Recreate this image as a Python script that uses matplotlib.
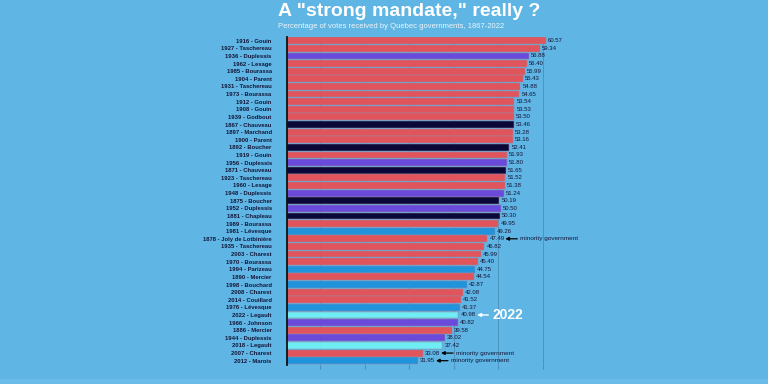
import matplotlib
matplotlib.use("Agg")
import matplotlib.pyplot as plt

plt.rcParams['font.family'] = ['Liberation Sans', 'DejaVu Sans']

labels = ["1916 - Gouin", "1927 - Taschereau", "1936 - Duplessis", "1962 - Lesage",
          "1985 - Bourassa", "1904 - Parent", "1931 - Taschereau", "1973 - Bourassa",
          "1912 - Gouin", "1908 - Gouin", "1939 - Godbout", "1867 - Chauveau",
          "1897 - Marchand", "1900 - Parent", "1892 - Boucher", "1919 - Gouin",
          "1956 - Duplessis", "1871 - Chauveau", "1923 - Taschereau", "1960 - Lesage",
          "1948 - Duplessis", "1875 - Boucher", "1952 - Duplessis", "1881 - Chapleau",
          "1989 - Bourassa", "1981 - Lévesque", "1878 - Joly de Lotbinière", "1935 - Taschereau",
          "2003 - Charest", "1970 - Bourassa", "1994 - Parizeau", "1890 - Mercier",
          "1998 - Bouchard", "2008 - Charest", "2014 - Couillard", "1976 - Lévesque",
          "2022 - Legault", "1966 - Johnson", "1886 - Mercier", "1944 - Duplessis",
          "2018 - Legault", "2007 - Charest", "2012 - Marois"]
values = [60.57, 59.34, 56.88, 56.40, 55.99, 55.43, 54.88, 54.65, 53.54, 53.53,
          53.50, 53.46, 53.28, 53.16, 52.41, 51.93, 51.80, 51.65, 51.52, 51.38,
          51.24, 50.19, 50.50, 50.30, 49.95, 49.26, 47.49, 46.82, 45.99, 45.40,
          44.75, 44.54, 42.87, 42.08, 41.52, 41.37, 40.98, 40.82, 39.58, 38.02,
          37.42, 33.08, 31.95]
parties = ["PLQ", "PLQ", "UN", "PLQ", "PLQ", "PLQ", "PLQ", "PLQ", "PLQ", "PLQ",
           "PLQ", "CON", "PLQ", "PLQ", "CON", "PLQ", "UN", "CON", "PLQ", "PLQ",
           "UN", "CON", "UN", "CON", "PLQ", "PQ", "PLQ", "PLQ", "PLQ", "PLQ",
           "PQ", "PLQ", "PQ", "PLQ", "PLQ", "PQ", "CAQ", "UN", "PLQ", "UN",
           "CAQ", "PLQ", "PQ"]
party_colors = {"PLQ": "#e0555c", "UN": "#6a4adb", "CON": "#0a0838",
                "PQ": "#1f93dc", "CAQ": "#6eedf5"}
minority = ["1878 - Joly de Lotbinière", "2007 - Charest", "2012 - Marois"]
highlight = "2022 - Legault"

BG = "#5fb5e3"
PX = 4.46  # pixels per percentage point
fig = plt.figure(figsize=(7.68, 3.84), dpi=100, facecolor=BG)
ax = fig.add_axes([287/768, 1-364.5/384, (63-2.58)*PX/768, 327.6/384])
ax.set_facecolor(BG)

ypos = list(range(len(labels)))
ax.barh(ypos, values, height=0.9, color=[party_colors[p] for p in parties],
        edgecolor='#9a8aa2', linewidth=0.35, zorder=2)
ax.set_xlim(2.58, 63)
ax.set_ylim(len(labels)-0.5, -0.5)
ax.set_yticks(ypos)
ax.set_yticklabels(labels, fontsize=4.2, fontweight='bold', color='#14163a')
ax.tick_params(axis='y', length=0, pad=11)
ax.set_xticks([10, 20, 30, 40, 50, 60])
ax.tick_params(axis='x', length=3, color='#4c8fb8', labelbottom=False)
ax.grid(axis='x', color='#4f93bd', linewidth=0.7, zorder=0)
for s in ['top', 'right', 'bottom']:
    ax.spines[s].set_visible(False)
ax.spines['left'].set_color('#111111')
ax.spines['left'].set_linewidth(1.3)
ax.spines['left'].set_zorder(3)

for y, v, lab in zip(ypos, values, labels):
    ax.annotate(f"{v:.2f}", (v, y), xytext=(1.5, 0), textcoords='offset points',
                va='center', ha='left', fontsize=4.3, color='#14163a', annotation_clip=False)
    if lab in minority:
        ax.annotate("",
                    xy=(v + 18/PX, y), xytext=(v + 30/PX, y),
                    arrowprops=dict(arrowstyle='-|>', color='black', lw=0.9,
                                    mutation_scale=5, shrinkA=0, shrinkB=0),
                    annotation_clip=False)
        ax.text(v + 33/PX, y, "minority government", va='center', ha='left',
                fontsize=4.6, color='#14163a', clip_on=False)
    if lab == highlight:
        ax.annotate("",
                    xy=(v + 19/PX, y), xytext=(v + 30/PX, y),
                    arrowprops=dict(arrowstyle='-|>', color='white', lw=1.0,
                                    mutation_scale=5, shrinkA=0, shrinkB=0),
                    annotation_clip=False)
        ax.text(v + 34/PX, y, "2022", va='center', ha='left', fontsize=10,
                fontweight='bold', color='white', clip_on=False)

fig.text(278/768, 1-12/384, 'A "strong mandate," really ?', fontsize=14,
         fontweight='bold', color='white', ha='left', va='center')
fig.text(278/768, 1-26/384, 'Percentage of votes received by Quebec governments, 1867-2022',
         fontsize=5.5, color='#eef6fb', ha='left', va='center')

fig.patches.append(plt.Rectangle((0, 0), 1, 5/384, transform=fig.transFigure,
                                 facecolor='#6bbce8', edgecolor='none', zorder=0))

fig.savefig("out.png", dpi=100, facecolor=BG)
